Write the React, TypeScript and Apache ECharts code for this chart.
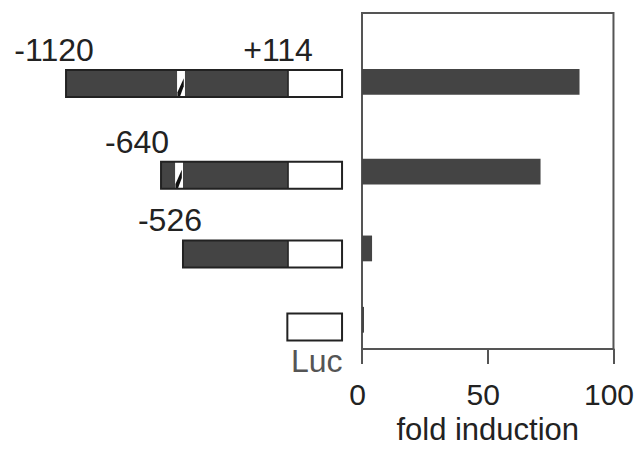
import React, { useEffect, useRef } from "react";
import * as echarts from "echarts";

// construct rows (schematic vertical position, top to bottom)
const rowPos = [1, 2.13, 3.1, 4];
// promoter construct labels and schematic positions (nt-like units)
const startLabels = ["-1120", "-640", "-526", ""];
const constructStart = [-1120, -592, -470, 110];
const hatchStart = [-503, -514, null, null];
const hatchEnd = [-459, -470, null, null];
const promoterEnd = [114, 114, 114, 110];
const lucEnd = [414, 414, 414, 414];
const endLabel = "+114";
const lucLabel = "Luc";
// luciferase activity
const foldInduction = [86.5, 71, 4, 0.8];
const xTicks = [0, 50, 100];

const FONT = "'Liberation Sans', Arial, Helvetica, sans-serif";
const DARK = "#444444";
const EDGE = "#222222";
const labelOffsets = [-12, -24, -13, 0];

export default function App() {
  const ref = useRef<HTMLDivElement>(null);
  useEffect(() => {
    if (!ref.current) return;
    const chart = echarts.init(ref.current, undefined, { renderer: "svg" });
    const constructData = rowPos.map((r, i) => [
      r,
      constructStart[i],
      hatchStart[i] ?? NaN,
      hatchEnd[i] ?? NaN,
      promoterEnd[i],
      lucEnd[i],
      i,
    ]);
    const barData = foldInduction.map((v, i) => [v, rowPos[i]]);
    const yAxisBase = {
      type: "value" as const,
      min: 0.13,
      max: 4.37,
      inverse: true,
      axisLine: { show: false },
      axisTick: { show: false },
      axisLabel: { show: false },
      splitLine: { show: false },
    };
    const textStyle = (text: string, x: number, y: number, fill: string) => ({
      type: "text",
      style: {
        text,
        x,
        y,
        fill,
        font: `32px ${FONT}`,
        align: "center",
        verticalAlign: "middle",
        textAlign: "center",
        textVerticalAlign: "middle",
      },
    });
    chart.setOption({
      animation: false,
      grid: [
        { left: 0, right: 282, top: 13, bottom: 93, show: false },
        {
          left: 362,
          right: 22,
          top: 13,
          bottom: 93,
          show: true,
          borderColor: "#555",
          borderWidth: 2,
        },
      ],
      xAxis: [
        {
          type: "value",
          gridIndex: 0,
          min: -1487,
          max: 486,
          show: false,
        },
        {
          type: "value",
          gridIndex: 1,
          min: xTicks[0],
          max: xTicks[xTicks.length - 1],
          interval: 50,
          axisLine: { show: true, lineStyle: { color: "#555", width: 2 } },
          axisTick: { show: true, length: 15, lineStyle: { color: "#555", width: 2 } },
          axisLabel: {
            fontSize: 30,
            color: "#222",
            margin: 30,
            fontFamily: FONT,
            padding: [0, 9, 0, 0],
          },
          splitLine: { show: false },
          name: "fold induction",
          nameLocation: "middle",
          nameGap: 63,
          nameTextStyle: { fontSize: 31, color: "#222", fontFamily: FONT },
        },
      ],
      yAxis: [
        { ...yAxisBase, gridIndex: 0 },
        { ...yAxisBase, gridIndex: 1 },
      ],
      series: [
        {
          type: "custom",
          xAxisIndex: 0,
          yAxisIndex: 0,
          clip: false,
          data: constructData,
          renderItem: (params: any, api: any) => {
            const row = api.value(0);
            const s = api.value(1);
            const hs = api.value(2);
            const he = api.value(3);
            const pe = api.value(4);
            const le = api.value(5);
            const idx = api.value(6);
            const h = api.size([0, 0.333])[1];
            const ps = api.coord([s, row]);
            const pp = api.coord([pe, row]);
            const pl = api.coord([le, row]);
            const y0 = ps[1] - h / 2;
            const children: any[] = [];
            if (pp[0] > ps[0]) {
              children.push({
                type: "rect",
                shape: { x: ps[0], y: y0, width: pp[0] - ps[0], height: h },
                style: { fill: DARK },
              });
            }
            children.push({
              type: "rect",
              shape: { x: pp[0], y: y0, width: pl[0] - pp[0], height: h },
              style: { fill: "#fff" },
            });
            if (!isNaN(hs)) {
              const a = api.coord([hs, row])[0];
              const b = api.coord([he, row])[0];
              const w = b - a;
              children.push({
                type: "rect",
                shape: { x: a, y: y0, width: w, height: h },
                style: { fill: "#fff" },
              });
              children.push({
                type: "polygon",
                shape: {
                  points: [
                    [a + 0.05 * w, y0 + h * 0.82],
                    [a + w * 0.85, y0 + h * 0.3],
                    [a + w * 0.85, y0 + h * 0.6],
                    [a + 0.35 * w, y0 + h],
                    [a + 0.05 * w, y0 + h],
                  ],
                },
                style: { fill: "#111" },
              });
            }
            if (pp[0] > ps[0]) {
              children.push({
                type: "line",
                shape: { x1: pp[0], y1: y0, x2: pp[0], y2: y0 + h },
                style: { stroke: EDGE, lineWidth: 1.5 },
              });
            }
            children.push({
              type: "rect",
              shape: { x: ps[0], y: y0, width: pl[0] - ps[0], height: h },
              style: { fill: "none", stroke: EDGE, lineWidth: 2 },
            });
            const lab = startLabels[idx];
            if (lab) {
              children.push(textStyle(lab, ps[0] + labelOffsets[idx], y0 - 20, "#222"));
            }
            if (idx === 0) {
              children.push(textStyle(endLabel, pp[0] - 10, y0 - 20, "#222"));
            }
            if (idx === rowPos.length - 1) {
              children.push(textStyle(lucLabel, (pp[0] + pl[0]) / 2 + 2, y0 + h + 21, "#555"));
            }
            return { type: "group", children };
          },
        },
        {
          type: "custom",
          xAxisIndex: 1,
          yAxisIndex: 1,
          data: barData,
          renderItem: (params: any, api: any) => {
            const v = api.value(0);
            const row = api.value(1);
            const h = api.size([0, 0.325])[1];
            const p0 = api.coord([0, row]);
            const p1 = api.coord([v, row]);
            return {
              type: "rect",
              shape: { x: p0[0], y: p0[1] - h / 2, width: p1[0] - p0[0], height: h },
              style: { fill: DARK },
            };
          },
        },
      ],
    });
    return () => chart.dispose();
  }, []);
  return (
    <div
      ref={ref}
      style={{ position: "fixed", left: 0, top: 0, width: 637, height: 450, background: "#fff" }}
    />
  );
}
